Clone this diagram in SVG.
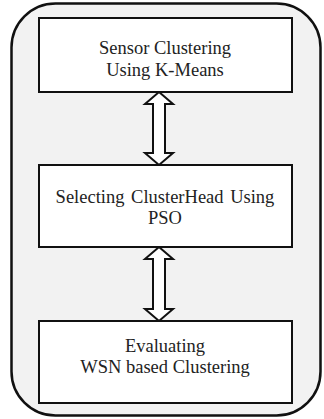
<svg xmlns="http://www.w3.org/2000/svg" width="324" height="419" viewBox="0 0 324 419">
<style>
.box{fill:#ffffff;stroke:#111;stroke-width:2}
.arrow{fill:#ffffff;stroke:#111;stroke-width:2;stroke-linejoin:miter}
.t{font-family:'Liberation Serif','DejaVu Serif','Times New Roman',serif;font-size:18.5px;fill:#222;text-anchor:middle}
</style>
<rect id="frame" x="11.5" y="3.5" width="309" height="412" rx="44" ry="44" fill="#f2f2f2" stroke="#111" stroke-width="2.5"/>
<g id="connectors">
<polygon class="arrow" points="159,92 173,104 165,104 165,153 173,153 159,165 145,153 153,153 153,104 145,104"/>
<polygon class="arrow" points="159,247 173,259 165,259 165,309 173,309 159,321 145,309 153,309 153,259 145,259"/>
</g>
<g id="node1">
<rect class="box" x="39" y="18" width="253" height="74"/>
<text class="t" x="165" y="54">Sensor Clustering</text>
<text class="t" x="165" y="76">Using K-Means</text>
</g>
<g id="node2">
<rect class="box" x="39" y="165" width="253" height="82"/>
<text class="t" x="165" y="203" word-spacing="2">Selecting ClusterHead Using</text>
<text class="t" x="165" y="224">PSO</text>
</g>
<g id="node3">
<rect class="box" x="39" y="321" width="253" height="82"/>
<text class="t" x="165" y="352">Evaluating</text>
<text class="t" x="165" y="373">WSN based Clustering</text>
</g>
</svg>
